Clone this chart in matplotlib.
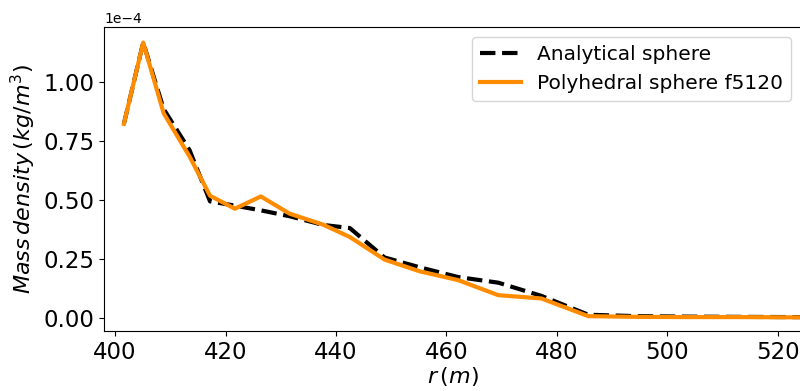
import matplotlib
matplotlib.use("Agg")
import matplotlib.pyplot as plt
import numpy as np

# radius (m)
r = [401.6, 405.1, 408.8, 413.5, 417.2, 421.7, 426.4, 431.6, 437.7, 442.5,
     448.8, 455.2, 462.1, 469.4, 477.2, 485.7, 494.5, 503.5, 513.0, 523.0, 533.0]
# mass density, in units of 1e-4 kg/m^3
analytical = [0.822, 1.167, 0.885, 0.71, 0.493, 0.475, 0.455, 0.43, 0.393, 0.380,
              0.255, 0.213, 0.172, 0.148, 0.092, 0.012, 0.006, 0.004, 0.003, 0.002, 0.002]
polyhedral = [0.822, 1.167, 0.867, 0.683, 0.517, 0.462, 0.514, 0.441, 0.394, 0.342,
              0.246, 0.196, 0.159, 0.095, 0.081, 0.006, 0.003, 0.002, 0.002, 0.001, 0.001]
yticks = [0.0, 0.25, 0.5, 0.75, 1.0]
xticks = [400, 420, 440, 460, 480, 500, 520]

fig = plt.figure(figsize=(8, 3.91), dpi=100)
ax = fig.add_axes([104/800, 1-331/391, (801-104)/800, (331-27)/391])

ax.plot(r, np.array(analytical)*1e-4, '--', color='black', lw=3, label='Analytical sphere')
ax.plot(r, np.array(polyhedral)*1e-4, '-', color='darkorange', lw=3, label='Polyhedral sphere f5120')

ax.set_xlim(398.0, 524.2)
ax.set_ylim(-0.057e-4, 1.233e-4)
ax.set_xticks(xticks)
ax.set_yticks(np.array(yticks)*1e-4)
ax.ticklabel_format(axis='y', style='sci', scilimits=(0, 0))
ax.tick_params(labelsize=16.5)
ax.yaxis.get_offset_text().set_fontsize(10)
ax.set_xlabel(r'$r\,(m)$', fontsize=16, labelpad=1)
ax.set_ylabel(r'$Mass\,density\,(kg/m^3)$', fontsize=16, labelpad=4)
ax.legend(loc='upper right', fontsize=14.5)

fig.savefig('out.png', dpi=100)
